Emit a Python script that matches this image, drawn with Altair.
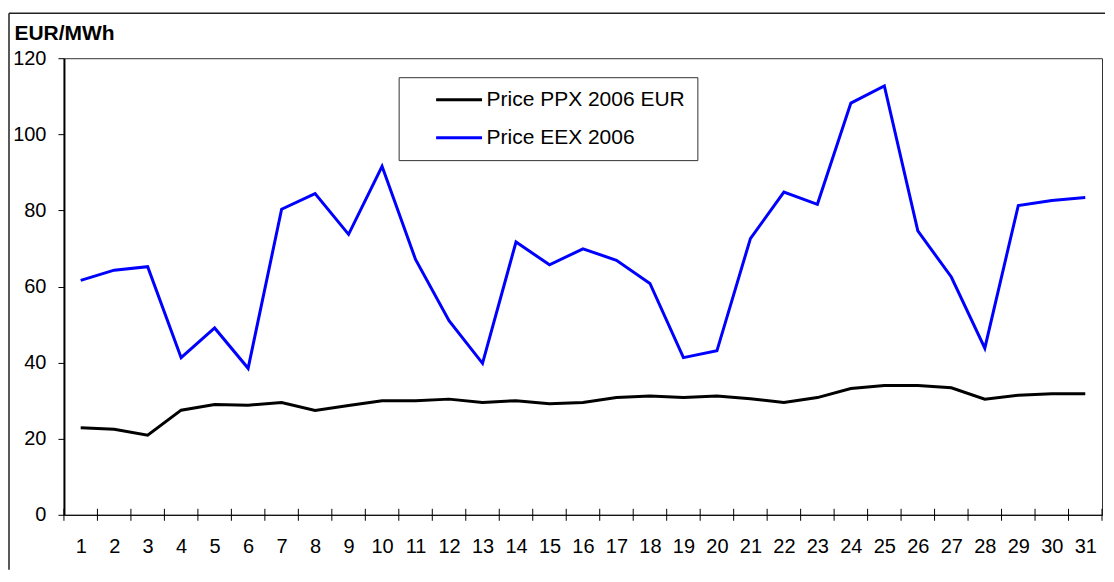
import altair as alt
import pandas as pd

days = list(range(1, 32))
ppx = [22.9, 22.5, 20.9, 27.5, 29.0, 28.8, 29.5, 27.4, 28.7, 30.0, 30.0, 30.4,
       29.5, 30.0, 29.2, 29.5, 30.8, 31.2, 30.8, 31.2, 30.5, 29.5, 30.8, 33.2,
       34.0, 34.0, 33.4, 30.4, 31.4, 31.8, 31.8]
eex = [61.6, 64.3, 65.2, 41.3, 49.1, 38.5, 80.3, 84.4, 73.7, 91.6, 67.1, 51.0,
       39.8, 71.7, 65.7, 69.9, 66.9, 60.8, 41.3, 43.1, 72.6, 84.8, 81.6, 108.2,
       112.7, 74.6, 62.5, 43.8, 81.3, 82.6, 83.4]
series_names = ["Price PPX 2006 EUR", "Price EEX 2006"]
series_colors = ["#000000", "#0000FF"]
y_ticks = [0, 20, 40, 60, 80, 100, 120]

FONT = "Liberation Sans"
H = 457

rows = []
for d, v in zip(days, ppx):
    rows.append({"day": d, "series": series_names[0], "value": v})
for d, v in zip(days, eex):
    rows.append({"day": d, "series": series_names[1], "value": v})
df = pd.DataFrame(rows)

bounds = pd.DataFrame({"b": [d - 0.5 for d in days] + [days[-1] + 0.5]})

x_scale = alt.Scale(domain=[days[0] - 0.5, days[-1] + 0.5], nice=False, zero=False)
y_scale = alt.Scale(domain=[y_ticks[0], y_ticks[-1]], nice=False)

x_axis = alt.Axis(values=days, title=None, ticks=False, tickSize=0,
                  labelPadding=22, labelFontSize=20, labelFont=FONT,
                  labelColor="black", domainColor="black", domainWidth=1,
                  labelFlush=False, labelOverlap=False, grid=False)

lines = alt.Chart(df).mark_line(strokeWidth=3).encode(
    x=alt.X("day:Q", scale=x_scale, axis=x_axis),
    y=alt.Y("value:Q", scale=y_scale,
            axis=alt.Axis(values=y_ticks, title="EUR/MWh", titleAngle=0,
                          titleAlign="left", titleBaseline="alphabetic",
                          titleX=-50, titleY=-19, titleFontSize=21,
                          titleFontWeight="bold", titleFont=FONT, titleColor="black",
                          tickSize=6, tickColor="black", tickWidth=1,
                          labelPadding=12, labelFontSize=20, labelFont=FONT,
                          labelColor="black", domainColor="black", domainWidth=2,
                          grid=False)),
    color=alt.Color("series:N",
                    scale=alt.Scale(domain=series_names, range=series_colors),
                    sort=series_names,
                    legend=alt.Legend(title=None, orient="none", legendX=335, legendY=19,
                                      strokeColor="#333333", fillColor="white",
                                      padding=12, symbolType="M-4,0H4", symbolSize=132,
                                      symbolStrokeWidth=3, symbolOffset=38,
                                      labelOffset=17, labelFontSize=21, labelFont=FONT,
                                      labelColor="black", rowPadding=16,
                                      labelLimit=400)),
)

ticks = alt.Chart(bounds).mark_rule(color="black", strokeWidth=1).encode(
    x=alt.X("b:Q", scale=x_scale, axis=x_axis),
    y=alt.value(H - 6),
    y2=alt.value(H + 6),
)

one = pd.DataFrame({"k": [0]})
border_top = alt.Chart(one).mark_rule(color="#222222", strokeWidth=1.5).encode(
    x=alt.value(-55), x2=alt.value(1042), y=alt.value(-45))
border_left = alt.Chart(one).mark_rule(color="#222222", strokeWidth=1.5).encode(
    x=alt.value(-55), y=alt.value(-45), y2=alt.value(512))

chart = alt.layer(lines, ticks, border_top, border_left).properties(
    width=1039, height=H,
    padding={"left": 0, "top": 4, "right": 0, "bottom": 0},
    background="white",
).configure_view(stroke="#333333", strokeWidth=1)

chart.save("out.html", embed_options={"renderer": "svg", "actions": False})
